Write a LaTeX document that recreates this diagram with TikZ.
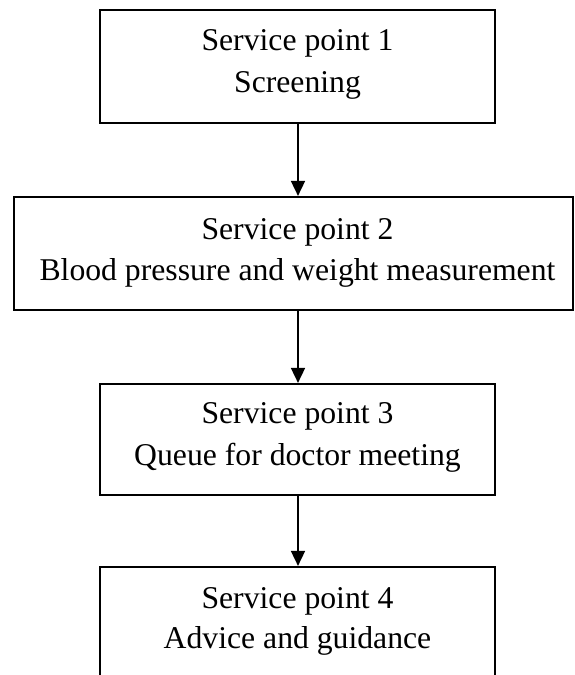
\documentclass[tikz,border=0pt]{standalone}
\usepackage{fontspec}
\setmainfont{Liberation Serif}
\usetikzlibrary{arrows.meta}
\begin{document}
\begin{tikzpicture}[x=1pt,y=1pt,
  stepbox/.style={draw=black, line width=2.2pt, fill=none, inner sep=0pt, minimum width=395pt},
  widebox/.style={draw=black, line width=2.2pt, fill=none, inner sep=0pt, minimum width=559pt},
  lbl/.style={anchor=base, inner sep=0pt, font=\fontsize{31.7}{41}\selectfont},
  flow/.style={draw=black, line width=1.7pt, -{Triangle[width=14pt,length=15pt]}}]
\useasboundingbox (0,0) rectangle (574,-675);
\clip (0,0) rectangle (574,-675);
\fill[white] (0,0) rectangle (574,-675);
% boxes
\node[stepbox, minimum height=113pt] (b1) at (297.5,-66.5) {};
\node[widebox, minimum height=113pt] (b2) at (293.5,-253.5) {};
\node[stepbox, minimum height=111pt] (b3) at (297.5,-439.5) {};
\node[stepbox, minimum height=160pt] (b4) at (297.5,-647) {};
% texts
\node[lbl] (t1a) at (297.5,-50) {Service point 1};
\node[lbl] (t1b) at (297.5,-92) {Screening};
\node[lbl] (t2a) at (297.5,-239) {Service point 2};
\node[lbl] (t2b) at (297.5,-280) {Blood pressure and weight measurement};
\node[lbl] (t3a) at (297.5,-423) {Service point 3};
\node[lbl] (t3b) at (297.5,-465) {Queue for doctor meeting};
\node[lbl] (t4a) at (297.5,-608) {Service point 4};
\node[lbl] (t4b) at (297.5,-648) {Advice and guidance};
% connectors
\draw[flow] (b1.south -| 298,0) -- (b2.north -| 298,0);
\draw[flow] (b2.south -| 298,0) -- (b3.north -| 298,0);
\draw[flow] (b3.south -| 298,0) -- (b4.north -| 298,0);
\end{tikzpicture}
\end{document}
